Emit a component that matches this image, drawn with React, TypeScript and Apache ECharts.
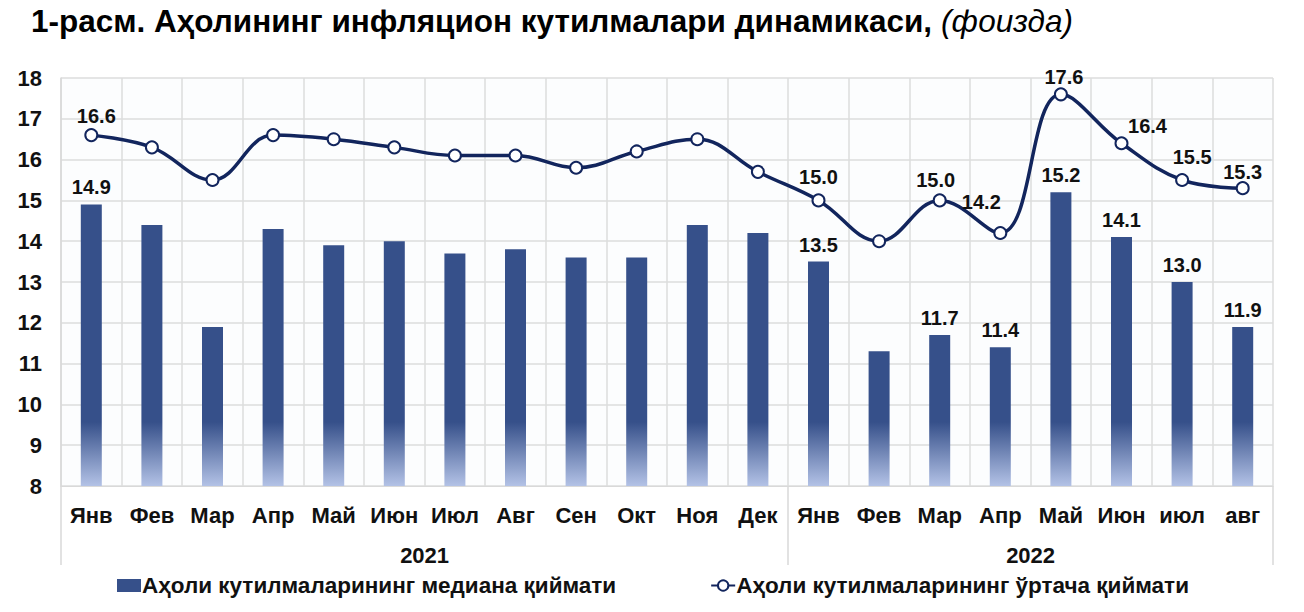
import React, { useEffect, useRef } from "react";
import * as echarts from "echarts";

const months = ["Янв", "Фев", "Мар", "Апр", "Май", "Июн", "Июл", "Авг", "Сен", "Окт", "Ноя", "Дек", "Янв", "Фев", "Мар", "Апр", "Май", "Июн", "июл", "авг"];
const years = ["2021", "2022"];
const yearCenters = [6, 16];
const yearBounds = [0, 12, 20];
const medianValues = [14.9, 14.4, 11.9, 14.3, 13.9, 14.0, 13.7, 13.8, 13.6, 13.6, 14.4, 14.2, 13.5, 11.3, 11.7, 11.4, 15.2, 14.1, 13.0, 11.9];
const meanValues = [16.6, 16.3, 15.5, 16.6, 16.5, 16.3, 16.1, 16.1, 15.8, 16.2, 16.5, 15.7, 15.0, 14.0, 15.0, 14.2, 17.6, 16.4, 15.5, 15.3];
const medianLabeled = [0, 12, 14, 15, 16, 17, 18, 19];
const meanLabeled = [0, 12, 14, 15, 16, 17, 18, 19];
const medianName = "Аҳоли кутилмаларининг медиана қиймати";
const meanName = "Аҳоли кутилмаларининг ўртача қиймати";

const meanLabelOffsets: Record<number, [number, number]> = {
  0: [5, 4],
  14: [-4, 3],
  15: [-19, -8],
  16: [3, 6],
  17: [26, 6],
  18: [10, 0],
  19: [0, 7],
};

const FONT = "'Liberation Sans', Arial, sans-serif";
const NAVY = "#12255d";
const BAR = "#36508a";

export default function App() {
  const ref = useRef<HTMLDivElement>(null);
  useEffect(() => {
    if (!ref.current) return;
    const chart = echarts.init(ref.current, undefined, { renderer: "svg" });
    const labelStyle = { fontFamily: FONT, fontWeight: "bold" as const, fontSize: 20, color: "#111" };
    const axisStyle = { fontFamily: FONT, fontWeight: "bold" as const, fontSize: 22, color: "#111" };
    const barData = medianValues.map((v, i) => ({
      value: v,
      label: { show: medianLabeled.includes(i) },
    }));
    const lineData = meanValues.map((v, i) => ({
      value: v,
      label: { show: meanLabeled.includes(i), offset: meanLabelOffsets[i] || [0, 0] },
    }));
    chart.setOption({
      animation: false,
      backgroundColor: "#ffffff",
      title: {
        left: 26,
        top: 0,
        text: "{b|1-расм. Аҳолининг инфляцион кутилмалари динамикаси,}{s| }{i|(фоизда)}",
        textStyle: {
          rich: {
            b: { fontFamily: FONT, fontWeight: "bold", fontSize: 31.5, color: "#000" },
            s: { fontFamily: FONT, fontWeight: "normal", fontSize: 31.5, width: 9, color: "#000" },
            i: { fontFamily: FONT, fontStyle: "italic", fontWeight: "normal", fontSize: 31.5, color: "#000" },
          },
        },
      },
      legend: {
        left: 112,
        top: 569,
        itemGap: 94,
        itemWidth: 24,
        itemHeight: 13,
        textStyle: { fontFamily: FONT, fontWeight: "bold", fontSize: 22.5, color: "#111", padding: [0, 0, 0, -4] },
        data: [
          { name: medianName, icon: "rect", itemStyle: { color: BAR } },
          { name: meanName },
        ],
      },
      grid: { left: 61, right: 31, top: 78, bottom: 126, show: true, backgroundColor: "#fcfdfe", borderWidth: 0 },
      xAxis: [
        {
          type: "category",
          data: months,
          position: "bottom",
          boundaryGap: true,
          axisLine: { show: true, lineStyle: { color: "#d9d9d9", width: 1 } },
          axisTick: { show: false },
          splitLine: { show: true, lineStyle: { color: "#dcdcdc", width: 1.5 } },
          axisLabel: { ...axisStyle, margin: 18, interval: 0 },
        },
        {
          type: "value",
          min: 0,
          max: 20,
          position: "bottom",
          offset: 0,
          axisLine: { show: false },
          splitLine: { show: false },
          axisTick: { show: true, customValues: yearBounds, length: 79, lineStyle: { color: "#d9d9d9", width: 1.5 } },
          axisLabel: {
            ...axisStyle,
            margin: 58,
            customValues: yearCenters,
            formatter: (v: number) => years[yearCenters.indexOf(v)] ?? "",
          },
        },
      ],
      yAxis: {
        type: "value",
        min: 8,
        max: 18,
        interval: 1,
        axisLine: { show: true, lineStyle: { color: "#d9d9d9", width: 1.5 } },
        axisTick: { show: false },
        splitLine: { show: true, lineStyle: { color: "#dcdcdc", width: 1.5 } },
        axisLabel: { ...axisStyle, margin: 19 },
      },
      series: [
        {
          name: medianName,
          type: "bar",
          xAxisIndex: 0,
          data: barData,
          barWidth: 21,
          itemStyle: {
            color: new echarts.graphic.LinearGradient(
              0, 422, 0, 486,
              [
                { offset: 0, color: BAR },
                { offset: 1, color: "#b3c2e6" },
              ],
              true
            ),
          },
          label: { position: "top", distance: 7, formatter: (p: any) => Number(p.value).toFixed(1), ...labelStyle },
          z: 2,
        },
        {
          name: meanName,
          type: "line",
          xAxisIndex: 0,
          data: lineData,
          smooth: 0.4,
          symbol: "circle",
          symbolSize: 12,
          lineStyle: { color: NAVY, width: 3.5 },
          itemStyle: { color: "#ffffff", borderColor: NAVY, borderWidth: 2 },
          label: { position: "top", distance: 6, formatter: (p: any) => Number(p.value).toFixed(1), ...labelStyle },
          z: 3,
        },
      ],
    });
    return () => chart.dispose();
  }, []);
  return (
    <div
      ref={ref}
      style={{ position: "absolute", left: 0, top: 0, width: 1304, height: 612, background: "#fff" }}
    />
  );
}
